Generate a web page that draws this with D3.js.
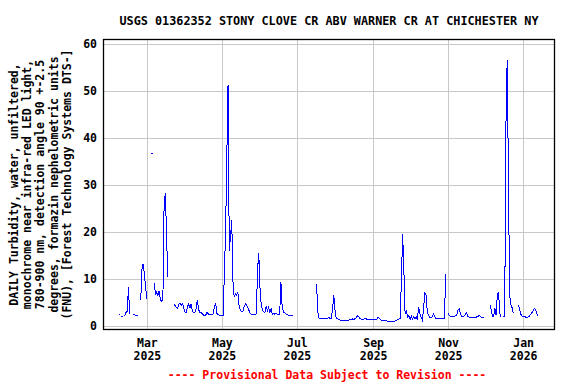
<!DOCTYPE html>
<html>
<head>
<meta charset="utf-8">
<script src="https://cdn.jsdelivr.net/npm/d3@7"></script>
<style>
  html, body { margin: 0; padding: 0; background: #fff; }
  svg text { font-family: "DejaVu Sans Mono", "Liberation Mono", monospace; font-weight: bold; }
</style>
</head>
<body>
<div id="chart"></div>
<script>
// ---- data (daily values, null = missing) ----
const titleText = "USGS 01362352 STONY CLOVE CR ABV WARNER CR AT CHICHESTER NY";
const yLabelLines = [
  "DAILY Turbidity, water, unfiltered,",
  "monochrome near infra-red LED light,",
  "780-900 nm, detection angle 90 +-2.5",
  "degrees, formazin nephelometric units",
  "(FNU), [Forest Technology Systems DTS-]"
];
const footnote = "---- Provisional Data Subject to Revision ----";
const startDate = "2025-02-06";
const yTicks = [0, 10, 20, 30, 40, 50, 60];
const xTickDates = ["2025-03-01", "2025-05-01", "2025-07-01", "2025-09-01", "2025-11-01", "2026-01-01"];
const xTickMonths = ["Mar", "May", "Jul", "Sep", "Nov", "Jan"];
const xTickYears = ["2025", "2025", "2025", "2025", "2025", "2026"];

const febValues = [2.3, 2.3, null, 2.0, null, 2.1, 2.8, 3.0, 8.2, 2.4, null, null,
  2.3, 2.3, 2.2, 2.2, 2.2, null, 5.4, 12, 13.2, 10.7, 8];
const marValues = [5.6, null, null, null, 36.7, null, 9.0, 6.5, 7.2, 6.4, 7.4, 5.5, 5.2, 5.3,
  26, 28.2, 19.3, 10.4, null, null, null, null, 4.5, 4.2, 3.8, 3.6, 4.5, 4.8, 4.3, 4.7, 3.6];
const aprValues = [2.8, 2.7, 4.0, 4.6, 3.8, 4.6, 3.0, 2.7, 2.7, 3.6, 5.5, 3.5, 2.7, 2.7, 2.6,
  2.2, 2.1, 2.3, 2.9, 2.4, 2.4, 2.4, 2.4, 2.5, 4.2, 4.7, 2.6, 2.3, 2.2, 2.2];
const mayValues = [2.2, 2.2, 11, 20, 36, 51.3, 16, 19, 22.5, 9.5, 6.1, 6.8, 6.5, 7.0, 4.2, 3.2,
  2.9, 2.9, 3.9, 4.6, 4.4, 3.8, 3.2, 2.6, 2.4, 2.4, 2.4, 2.4, 2.5, 11.9, 15.4];
const junValues = [8, 4.4, 3.2, 2.9, 2.7, 4.2, 3.2, 3.9, 2.7, 3.6, 2.4, 2.6, 2.4, 2.6, 2.4, 2.4,
  2.4, 9.3, 4.0, 2.9, 2.7, 2.5, 2.3, 2.2, 2.2, 2.2, 2.1, 2.0, null, null];
const julValues = [null, null, null, null, null, null, null, null, null, null, null, null, null,
  null, null, null, 8.8, 2.8, 1.6, 1.5, 1.4, 1.4, 1.4, 1.4, 1.4, 1.4, 1.8, 1.4, 1.4, 3.6, 6.5];
const augValues = [3.2, 1.5, 1.4, 1.3, 1.2, 1.1, 1.1, 1.1, 1.1, 1.1, 1.1, 1.1, 1.2, 1.3, 1.4,
  1.3, 1.4, 1.5, 2.1, 1.9, 1.6, 1.4, 1.3, 1.3, 1.4, 1.6, 1.3, 1.3, 1.3, 1.3, 1.3];
const sepValues = [1.3, 1.3, 1.3, 1.3, 1.8, 1.5, 1.3, 1.1, 1.0, 1.0, 1.0, 1.0, 0.9, 0.9, 0.9,
  0.9, 0.9, 0.9, 1.0, 1.1, 1.2, 1.4, 1.5, 10, 19.6, 11.8, 2.5, 3.3, 1.8, 2.2];
const octValues = [1.3, 2.0, 1.4, 1.9, 1.4, 1.9, 1.2, 4.0, 2.6, 1.8, 1.2, 3.5, 6.9, 6.5, 3.0,
  2.1, 1.8, 1.7, 1.8, 2.5, 2.0, 1.5, 1.5, 1.5, 1.5, 1.5, 1.5, 1.5, 1.6, 10.9, null];
const novValues = [2.7, 2.1, 2.0, 1.9, 1.9, 2.0, 2.1, 2.2, 3.3, 3.5, 2.5, 1.9, 1.8, 2.0, 2.4,
  2.7, 2.0, 1.8, 1.8, 1.8, 1.8, 1.8, 1.8, 1.8, 1.9, 2.1, 2.0, 1.8, 1.8, 1.7];
const decValues = [null, null, null, null, 4.4, 3.3, 2.0, 1.9, 3.8, 2.2, 6.6, 7.2, 2.5, 1.8,
  null, 1.8, 2.0, 42.7, 56.6, 32.4, 6.5, 4.4, 3.8, 2.7, null, null, null, 4.4, 3.7, 2.5, 2.0];
const janValues = [2.0, 2.0, 1.8, 1.8, 1.8, 2.0, 2.3, 2.7, 3.0, 3.6, 3.5, 2.5, 2.1];

const values = [].concat(febValues, marValues, aprValues, mayValues, junValues, julValues,
  augValues, sepValues, octValues, novValues, decValues, janValues);

// ---- layout ----
const W = 576, H = 384;
const box = { left: 103.5, right: 554.5, top: 39.5, bottom: 329.5 };

const svg = d3.select("#chart").append("svg")
  .attr("width", W).attr("height", H)
  .style("display", "block");

const parse = d3.utcParse("%Y-%m-%d");
const t0 = parse(startDate).getTime();
const data = values.map((v, i) => ({ date: new Date(t0 + i * 864e5), value: v }));

const x = d3.scaleUtc()
  .domain([new Date(Date.UTC(2025, 0, 24, 17)), new Date(Date.UTC(2026, 0, 26, 12))])
  .range([box.left, box.right]);
const y = d3.scaleLinear()
  .domain([-0.853, 61.0])
  .range([box.bottom, box.top]);

// grid
svg.append("g")
  .attr("transform", `translate(${box.left},0)`)
  .call(d3.axisLeft(y).tickValues(yTicks).tickSize(-(box.right - box.left)).tickFormat(""))
  .call(g => g.select(".domain").remove())
  .call(g => g.selectAll(".tick line").attr("stroke", "#c8c8c8").attr("stroke-width", 1)
    .attr("shape-rendering", "crispEdges"));

const xTicks = xTickDates.map(parse);
svg.append("g")
  .attr("transform", `translate(0,${box.bottom})`)
  .call(d3.axisBottom(x).tickValues(xTicks).tickSize(-(box.bottom - box.top)).tickFormat(""))
  .call(g => g.select(".domain").remove())
  .call(g => g.selectAll(".tick line").attr("stroke", "#c8c8c8").attr("stroke-width", 1)
    .attr("shape-rendering", "crispEdges"));

// y tick labels
svg.append("g")
  .attr("transform", `translate(${box.left},0)`)
  .call(d3.axisLeft(y).tickValues(yTicks).tickSize(0).tickPadding(6.5).tickFormat(d3.format("d")))
  .call(g => g.select(".domain").remove())
  .call(g => g.selectAll(".tick text")
    .attr("font-size", "11.5px").attr("fill", "#000")
    .style("font-family", '"DejaVu Sans Mono", monospace').style("font-weight", "bold"));

// x tick labels (two lines)
const xl = svg.append("g")
  .attr("transform", `translate(0,${box.bottom})`)
  .call(d3.axisBottom(x).tickValues(xTicks).tickSize(0).tickFormat(""))
  .call(g => g.select(".domain").remove());
xl.selectAll(".tick text").remove();
xl.selectAll(".tick").each(function (d, i) {
  const t = d3.select(this).append("text")
    .attr("fill", "#000").attr("font-size", "11.5px").attr("text-anchor", "middle");
  t.append("tspan").attr("x", 0).attr("y", 17.5).text(xTickMonths[i]);
  t.append("tspan").attr("x", 0).attr("y", 30.5).text(xTickYears[i]);
});

// data line
const line = d3.line()
  .defined(d => d.value != null)
  .x(d => x(d.date))
  .y(d => y(d.value));
svg.append("path")
  .datum(data)
  .attr("fill", "none")
  .attr("stroke", "#0000ff")
  .attr("stroke-width", 1)
  .attr("shape-rendering", "crispEdges")
  .attr("d", line);

// isolated points
const isolated = data.filter((d, i) => d.value != null &&
  (i === 0 || data[i - 1].value == null) &&
  (i === data.length - 1 || data[i + 1].value == null));
svg.append("g").selectAll("rect")
  .data(isolated).join("rect")
  .attr("x", d => Math.round(x(d.date)) - 1)
  .attr("y", d => Math.round(y(d.value)))
  .attr("width", 2).attr("height", 1)
  .attr("fill", "#0000ff");

// frame
svg.append("rect")
  .attr("x", box.left).attr("y", box.top)
  .attr("width", box.right - box.left).attr("height", box.bottom - box.top)
  .attr("fill", "none").attr("stroke", "#000").attr("stroke-width", 1.3);

// title
svg.append("text")
  .attr("x", (box.left + box.right) / 2).attr("y", 24.5)
  .attr("text-anchor", "middle").attr("font-size", "11.8px").attr("fill", "#000")
  .text(titleText);

// y label
const yLabelX = [13.5, 26.9, 40.3, 53.7, 67.1];
yLabelLines.forEach((s, i) => {
  svg.append("text")
    .attr("transform", `translate(${yLabelX[i]},${(box.top + box.bottom) / 2}) rotate(-90)`)
    .attr("text-anchor", "middle")
    .attr("dominant-baseline", "central")
    .attr("font-size", "11.5px").attr("fill", "#000")
    .text(s);
});

// footnote
svg.append("text")
  .attr("x", (box.left + box.right) / 2 - 2).attr("y", 379)
  .attr("text-anchor", "middle").attr("font-size", "11.5px").attr("fill", "#ff0000")
  .text(footnote);
</script>
</body>
</html>
